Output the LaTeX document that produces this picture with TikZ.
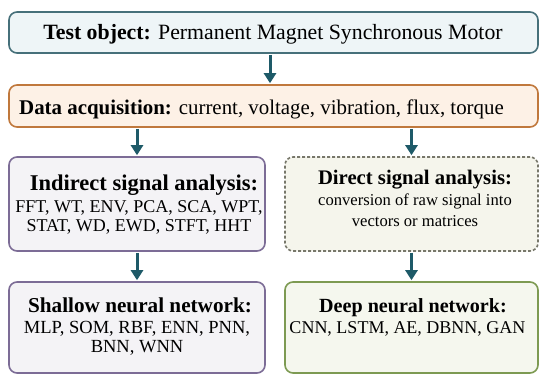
\documentclass[tikz,border=0pt]{standalone}
\usepackage{fontspec}
\setmainfont{Liberation Serif}
\usetikzlibrary{arrows.meta}

\definecolor{tealline}{HTML}{46707A}
\definecolor{tealfill}{HTML}{EEF5F7}
\definecolor{orangeline}{HTML}{C0783C}
\definecolor{orangefill}{HTML}{FDF1E6}
\definecolor{purpleline}{HTML}{7C6C96}
\definecolor{purplefill}{HTML}{F4F3F6}
\definecolor{oliveline}{HTML}{77776A}
\definecolor{olivefill}{HTML}{F5F5EC}
\definecolor{greenline}{HTML}{7D9A52}
\definecolor{greenfill}{HTML}{F5F7EE}
\definecolor{arrowcol}{HTML}{1E5A68}

\newcommand{\fsz}[1]{\fontsize{#1}{#1}\selectfont}

\tikzset{
  panel/.style={rectangle, rounded corners=8pt, line width=1.6pt, inner sep=0pt},
  txt/.style={anchor=base, inner sep=0pt},
  flow/.style={draw=arrowcol, line width=3pt, -{Triangle[width=12pt,length=10pt]}, shorten >=1pt, shorten <=1pt}
}

\begin{document}
\begin{tikzpicture}[x=1pt,y=-1pt]
\useasboundingbox (0,0) rectangle (539,375);

% boxes
\node[panel, draw=tealline, fill=tealfill, minimum width=529pt, minimum height=41pt] (test) at (273.5,32.5) {};
\node[panel, draw=orangeline, fill=orangefill, minimum width=529pt, minimum height=42pt] (data) at (273.5,106) {};
\node[panel, draw=purpleline, fill=purplefill, minimum width=256pt, minimum height=94pt] (indirect) at (137,204) {};
\node[panel, draw=oliveline, fill=olivefill, dash pattern=on 3pt off 2pt, minimum width=253pt, minimum height=94pt] (direct) at (411.5,204) {};
\node[panel, draw=purpleline, fill=purplefill, minimum width=256pt, minimum height=91pt] (shallow) at (137,327.5) {};
\node[panel, draw=greenline, fill=greenfill, minimum width=253pt, minimum height=91pt] (deep) at (411.5,327.5) {};

% texts
\node[txt, font=\fsz{21.8}] (t1) at (273,39) {\textbf{Test object:} Permanent Magnet Synchronous Motor};
\node[txt, font=\fsz{20.9}] (t2) at (261.5,114) {\textbf{Data acquisition:} current, voltage, vibration, flux, torque};

\node[txt, font=\fsz{22.5}] (i1) at (144,190) {\textbf{Indirect signal analysis:}};
\node[txt, font=\fsz{18}] (i2) at (139,212) {FFT, WT, ENV, PCA, SCA, WPT,};
\node[txt, font=\fsz{18}] (i3) at (139,231) {STAT, WD, EWD, STFT, HHT};

\node[txt, font=\fsz{20.7}] (d1) at (415,184) {\textbf{Direct signal analysis:}};
\node[txt, font=\fsz{16.6}] (d2) at (415,205) {conversion of raw signal into};
\node[txt, font=\fsz{16.6}] (d3) at (415,226) {vectors or matrices};

\node[txt, font=\fsz{21.2}] (s1) at (140,312) {\textbf{Shallow neural network:}};
\node[txt, font=\fsz{18.5}] (s2) at (137,333) {MLP, SOM, RBF, ENN, PNN,};
\node[txt, font=\fsz{18.5}] (s3) at (137,352) {BNN, WNN};

\node[txt, font=\fsz{20.1}] (n1) at (413,312) {\textbf{Deep neural network:}};
\node[txt, font=\fsz{18}] (n2) at (407.5,333) {CNN, LSTM, AE, DBNN, GAN};

% connectors
\draw[flow] (test.south -| 270,0) -- (data.north -| 270,0);
\draw[flow] (data.south -| indirect.north) -- (indirect.north);
\draw[flow] (data.south -| direct.north) -- (direct.north);
\draw[flow] (indirect.south) -- (shallow.north);
\draw[flow] (direct.south) -- (deep.north);
\end{tikzpicture}
\end{document}
